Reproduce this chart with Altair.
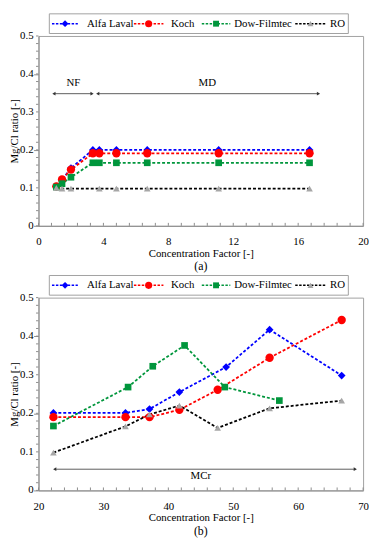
import altair as alt
import pandas as pd

SERIES = ["Alfa Laval", "Koch", "Dow-Filmtec", "RO"]
LINE_COLORS = ["#0000ff", "#ff0000", "#00963c", "#000000"]
MARK_COLORS = ["#0000ff", "#ff0000", "#00963c", "#a6a6a6"]
MARK_SHAPES = ["diamond", "circle", "square", "triangle-up"]
MARK_SIZES = [62, 72, 46, 46]
LEGEND_MARK_SIZES = [48, 52, 36, 36]

# ---------- panel (a) ----------
A_X = {
    "Alfa Laval": [1.1, 1.45, 2.0, 3.35, 3.75, 4.8, 6.7, 11.1, 16.7],
    "Koch": [1.1, 1.45, 2.0, 3.35, 3.75, 4.8, 6.7, 11.1, 16.7],
    "Dow-Filmtec": [1.1, 1.45, 2.0, 3.35, 3.75, 4.8, 6.7, 11.1, 16.7],
    "RO": [1.1, 1.45, 2.0, 3.75, 4.8, 6.7, 11.1, 16.7],
}
A_Y = {
    "Alfa Laval": [0.103, 0.121, 0.152, 0.200, 0.200, 0.200, 0.200, 0.200, 0.200],
    "Koch": [0.104, 0.122, 0.148, 0.191, 0.191, 0.191, 0.191, 0.191, 0.191],
    "Dow-Filmtec": [0.102, 0.111, 0.128, 0.166, 0.166, 0.166, 0.166, 0.166, 0.166],
    "RO": [0.100, 0.098, 0.098, 0.098, 0.098, 0.098, 0.098, 0.098],
}
A_ANN_LABELS = ["NF", "MD"]
A_ANN_X0 = [0.95, 3.65]
A_ANN_X1 = [3.3, 17.25]
A_ANN_Y = [0.348, 0.348]
A_ANN_TX = [2.15, 10.4]
A_ANN_TY = [0.376, 0.376]
A_X_DOMAIN = [0, 20]
A_X_MAJOR = [0, 4, 8, 12, 16, 20]
A_X_MINOR = [round(i * 0.8, 1) for i in range(26)]

# ---------- panel (b) ----------
B_X = {
    "Alfa Laval": [22.3, 33.4, 37.1, 41.7, 48.9, 55.6, 66.7],
    "Koch": [22.3, 33.4, 37.1, 41.7, 47.6, 55.6, 66.7],
    "Dow-Filmtec": [22.3, 33.8, 37.6, 42.5, 48.7, 57.1],
    "RO": [22.3, 33.4, 37.1, 41.7, 47.6, 55.6, 66.7],
}
B_Y = {
    "Alfa Laval": [0.201, 0.201, 0.211, 0.255, 0.320, 0.417, 0.298],
    "Koch": [0.190, 0.190, 0.190, 0.209, 0.261, 0.344, 0.442],
    "Dow-Filmtec": [0.167, 0.268, 0.322, 0.376, 0.268, 0.233],
    "RO": [0.098, 0.166, 0.197, 0.220, 0.162, 0.213, 0.233],
}
B_ANN_LABELS = ["MCr"]
B_ANN_X0 = [22.5]
B_ANN_X1 = [68.8]
B_ANN_Y = [0.055]
B_ANN_TX = [45.0]
B_ANN_TY = [0.036]
B_X_DOMAIN = [20, 70]
B_X_MAJOR = [20, 30, 40, 50, 60, 70]
B_X_MINOR = list(range(20, 71, 2))

Y_MAJOR = [0, 0.1, 0.2, 0.3, 0.4, 0.5]
Y_LABELS = ["0", "0.1", "0.2", "0.3", "0.4", "0.5"]
Y_MINOR = [round(i * 0.02, 2) for i in range(26)]

# legend layout (pixels relative to the plot's top-left corner)
LEG_BOX = (11, 315, -22.5, -2.5)
LEG_Y = -12.5
LEG_SYM_X0 = [13.7, 97, 166, 261]
LEG_SYM_X1 = [40, 127, 195, 292]
LEG_MARK_X = [27, 112, 180.5, 276.5]
LEG_LABEL_X = [49.3, 134.7, 199, 296.3]

FONT = "Liberation Serif"
TICK_COLOR = "#8c8c8c"
PLOT_W = 330


def long_df(xs, ys):
    rows = []
    for s in SERIES:
        for x, y in zip(xs[s], ys[s]):
            rows.append({"series": s, "cf": x, "ratio": y})
    return pd.DataFrame(rows)


def legend_layers():
    one = pd.DataFrame({"k": [0]})
    x0, x1, y0, y1 = LEG_BOX
    out = [
        alt.Chart(one).mark_rect(fill="white", stroke="#a0a0a0", strokeWidth=1).encode(
            x=alt.value(x0), x2=alt.value(x1), y=alt.value(y0), y2=alt.value(y1))
    ]
    for i, s in enumerate(SERIES):
        sdf = pd.DataFrame({"series": [s]})
        out.append(
            alt.Chart(sdf).mark_rule(color=LINE_COLORS[i], strokeDash=[2.5, 1.5], strokeWidth=1.6)
            .encode(x=alt.value(LEG_SYM_X0[i]), x2=alt.value(LEG_SYM_X1[i]), y=alt.value(LEG_Y))
        )
        out.append(
            alt.Chart(sdf).mark_point(shape=MARK_SHAPES[i], filled=True, fill=MARK_COLORS[i],
                                      size=LEGEND_MARK_SIZES[i], opacity=1, strokeWidth=0)
            .encode(x=alt.value(LEG_MARK_X[i]), y=alt.value(LEG_Y))
        )
        out.append(
            alt.Chart(sdf).mark_text(font=FONT, fontSize=11, color="black", align="left",
                                     baseline="middle")
            .encode(x=alt.value(LEG_LABEL_X[i]), y=alt.value(LEG_Y), text="series:N")
        )
    return out


def panel(xs, ys, xdomain, xmajor, xminor, ann, height, cap):
    df = long_df(xs, ys)
    xaxis = alt.Axis(
        values=xmajor, format="d", labelFlush=False, labelOverlap=False,
        ticks=False, labelPadding=10,
        title="Concentration Factor [-]", titlePadding=1,
    )
    yaxis = alt.Axis(
        values=Y_MAJOR, labels=False, tickSize=5,
        title="Mg/Cl ratio [-]", titlePadding=14,
    )
    x = alt.X("cf:Q", scale=alt.Scale(domain=xdomain, nice=False, zero=False), axis=xaxis)
    y = alt.Y("ratio:Q", scale=alt.Scale(domain=[0, 0.5], nice=False), axis=yaxis)

    lines = alt.Chart(df).mark_line(strokeDash=[3, 2], strokeWidth=1.8).encode(
        x=x, y=y,
        color=alt.Color("series:N", scale=alt.Scale(domain=SERIES, range=LINE_COLORS), legend=None),
    )
    layers = [lines]

    xt = alt.Chart(pd.DataFrame({"v": xminor})).mark_rule(color=TICK_COLOR, strokeWidth=1).encode(
        x="v:Q", y=alt.value(height), y2=alt.value(height - 3))
    yt = alt.Chart(pd.DataFrame({"v": Y_MINOR})).mark_rule(color=TICK_COLOR, strokeWidth=1).encode(
        y="v:Q", x=alt.value(0), x2=alt.value(-2.5))
    ylab = alt.Chart(pd.DataFrame({"v": Y_MAJOR, "t": Y_LABELS})).mark_text(
        font=FONT, fontSize=11, color="black", align="right", baseline="middle"
    ).encode(y="v:Q", x=alt.value(-5), text="t:N")
    layers += [xt, yt, ylab]

    for s, c, shp, sz in zip(SERIES, MARK_COLORS, MARK_SHAPES, MARK_SIZES):
        layers.append(
            alt.Chart(df).transform_filter(alt.datum.series == s)
            .mark_point(shape=shp, filled=True, fill=c, size=sz, opacity=1, strokeWidth=0)
            .encode(x="cf:Q", y="ratio:Q")
        )

    adf = pd.DataFrame(ann)
    rule = alt.Chart(adf).mark_rule(color="#333333", strokeWidth=0.8).encode(
        x="x0:Q", x2="x1:Q", y="y:Q")
    head_l = alt.Chart(adf).mark_point(shape="triangle-left", filled=True, size=14,
                                       color="#333333", opacity=1).encode(x="x0:Q", y="y:Q")
    head_r = alt.Chart(adf).mark_point(shape="triangle-right", filled=True, size=14,
                                       color="#333333", opacity=1).encode(x="x1:Q", y="y:Q")
    txt = alt.Chart(adf).mark_text(font=FONT, fontSize=11, color="black").encode(
        x="tx:Q", y="ty:Q", text="label:N")
    layers += [rule, head_l, head_r, txt]
    layers += legend_layers()

    return alt.layer(*layers).properties(
        width=PLOT_W, height=height,
        title=alt.TitleParams(cap, orient="bottom", font=FONT, fontSize=12, fontWeight="normal",
                              color="black", offset=3, anchor="middle"),
    )


top = panel(A_X, A_Y, A_X_DOMAIN, A_X_MAJOR, A_X_MINOR,
            {"label": A_ANN_LABELS, "x0": A_ANN_X0, "x1": A_ANN_X1, "y": A_ANN_Y,
             "tx": A_ANN_TX, "ty": A_ANN_TY},
            193, "(a)")
bottom = panel(B_X, B_Y, B_X_DOMAIN, B_X_MAJOR, B_X_MINOR,
               {"label": B_ANN_LABELS, "x0": B_ANN_X0, "x1": B_ANN_X1, "y": B_ANN_Y,
                "tx": B_ANN_TX, "ty": B_ANN_TY},
               196, "(b)")

chart = alt.vconcat(top, bottom, spacing=1).properties(
    padding={"left": 0, "top": 0, "right": 0, "bottom": 0}
).configure_view(
    stroke="#a0a0a0", strokeWidth=1
).configure_axis(
    grid=False, domainColor=TICK_COLOR, tickColor=TICK_COLOR, labelFont=FONT, labelFontSize=11,
    labelColor="black", titleFont=FONT, titleFontSize=11, titleFontWeight="normal",
    titleColor="black",
)

chart.save("out.html", embed_options={"renderer": "svg", "actions": False})
